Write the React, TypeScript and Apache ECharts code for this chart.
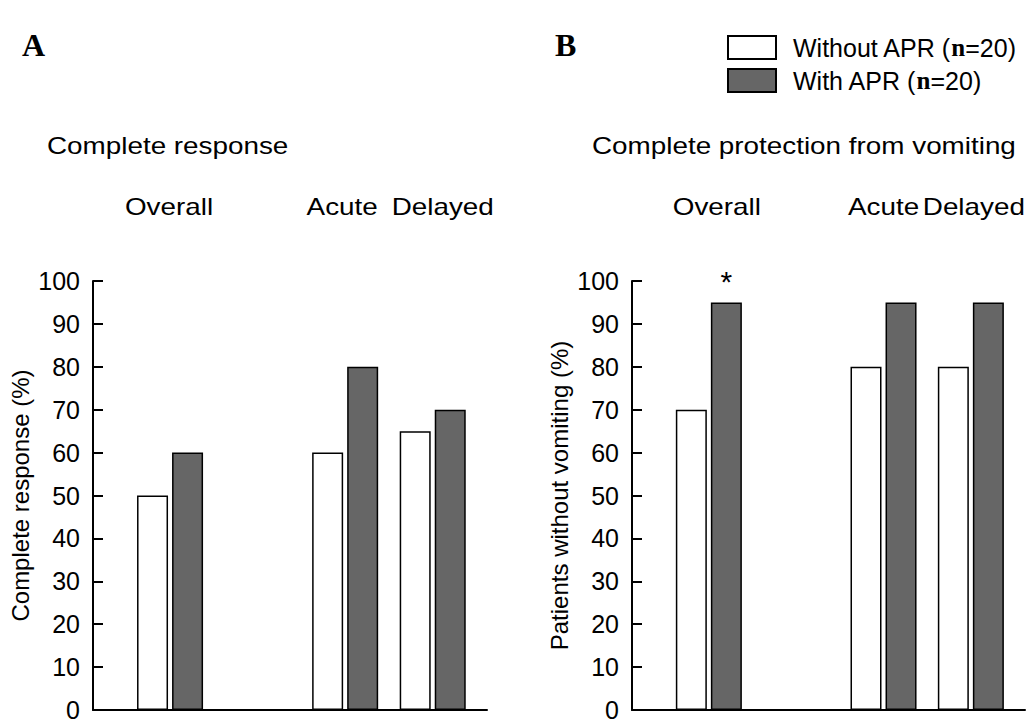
import React, { useEffect, useRef } from "react";
import * as echarts from "echarts";

const groupPositions = [1, 3, 4];
const groupLabels = ["Overall", "Acute", "Delayed"];
const seriesNames = ["Without APR (n=20)", "With APR (n=20)"];
const responseWithout = [50, 60, 65];
const responseWith = [60, 80, 70];
const vomitingWithout = [70, 80, 80];
const vomitingWith = [95, 95, 95];
const yTicks = [0, 10, 20, 30, 40, 50, 60, 70, 80, 90, 100];

const FONT = "Liberation Sans, Arial, sans-serif";
const SERIF = "Liberation Serif, Times New Roman, serif";

export default function App() {
  const ref = useRef<HTMLDivElement>(null);
  useEffect(() => {
    if (!ref.current) return;
    const chart = echarts.init(ref.current, undefined, { renderer: "svg" });
    const xMin = 0.12;
    const xMax = 4.62;
    const makeX = (gridIndex: number) => ({
      type: "value",
      gridIndex,
      min: xMin,
      max: xMax,
      axisLine: { show: true, lineStyle: { color: "#000", width: 2 } },
      axisTick: { show: false },
      axisLabel: { show: false },
      splitLine: { show: false },
    });
    const makeY = (gridIndex: number, name: string) => ({
      type: "value",
      gridIndex,
      min: 0,
      max: 100,
      interval: 10,
      name,
      nameLocation: "middle",
      nameGap: 61,
      nameTextStyle: { color: "#000", fontSize: 24, fontFamily: FONT },
      axisLine: { show: true, lineStyle: { color: "#000", width: 2 } },
      axisTick: { show: true, inside: true, length: 10, lineStyle: { color: "#000", width: 2 } },
      axisLabel: {
        color: "#000",
        fontSize: 25,
        fontFamily: FONT,
        margin: 13,
        customValues: yTicks,
      },
      splitLine: { show: false },
    });
    const white = { color: "#fff", borderColor: "#000", borderWidth: 1.5 };
    const dark = { color: "#666666", borderColor: "#000", borderWidth: 1.5 };
    const bar = (name: string, idx: number, vals: number[], style: any, asterisk = false) => ({
      type: "bar",
      name,
      xAxisIndex: idx,
      yAxisIndex: idx,
      barWidth: 31,
      barGap: "13%",
      itemStyle: style,
      data: vals.map((v, i) => {
        const item: any = { value: [groupPositions[i], v] };
        if (asterisk && i === 0) {
          item.label = {
            show: true,
            position: "top",
            formatter: "*",
            distance: 6,
            fontSize: 30,
            color: "#000",
            fontFamily: FONT,
          };
        }
        return item;
      }),
    });
    const baseGraphic = [
      { type: "text", left: 22, top: 29, style: { text: "A", fontSize: 32, fontWeight: "bold", fontFamily: SERIF, fill: "#000" } },
      { type: "text", left: 555, top: 29, style: { text: "B", fontSize: 32, fontWeight: "bold", fontFamily: SERIF, fill: "#000" } },
      { type: "text", x: 47, y: 134, scaleX: 1.16, style: { text: "Complete response", fontSize: 24, fontFamily: FONT, fill: "#000" } },
      { type: "text", x: 592, y: 134, scaleX: 1.16, style: { text: "Complete protection from vomiting", fontSize: 24, fontFamily: FONT, fill: "#000" } },
    ];
    chart.setOption({
      animation: false,
      backgroundColor: "#fff",
      grid: [
        { left: 93, top: 281, width: 394, height: 429 },
        { left: 632, top: 281, width: 393, height: 429 },
      ],
      xAxis: [makeX(0), makeX(1)],
      yAxis: [makeY(0, "Complete response (%)"), makeY(1, "Patients without vomiting (%)")],
      legend: {
        left: 727,
        top: 35,
        padding: 0,
        orient: "vertical",
        itemWidth: 48,
        itemHeight: 23,
        itemGap: 8,
        icon: "rect",
        data: seriesNames,
        formatter: (n: string) =>
          n.startsWith("Without") ? "{a|Without APR (}{b|n}{a|=20)}" : "{a|With APR (}{b|n}{a|=20)}",
        textStyle: {
          padding: [0, 0, 0, 12],
          rich: {
            a: { fontSize: 25, color: "#000", fontFamily: FONT },
            b: { fontSize: 25, color: "#000", fontFamily: SERIF, fontWeight: "bold" },
          },
        },
      },
      graphic: baseGraphic,
      series: [
        bar(seriesNames[0], 0, responseWithout, white),
        bar(seriesNames[1], 0, responseWith, dark),
        bar(seriesNames[0], 1, vomitingWithout, white),
        bar(seriesNames[1], 1, vomitingWith, dark, true),
      ],
    });
    // Group labels above each panel, positioned from the axis scale.
    const labelOffsets = [
      [-1, -3, 10],
      [8, 0, 3],
    ];
    const groupGraphic: any[] = [];
    [0, 1].forEach((axisIdx) => {
      groupPositions.forEach((p, i) => {
        const px = chart.convertToPixel({ xAxisIndex: axisIdx }, p) as number;
        groupGraphic.push({
          type: "text",
          x: px + labelOffsets[axisIdx][i],
          y: 207,
          scaleX: 1.16,
          style: {
            text: groupLabels[i],
            fontSize: 24,
            fontFamily: FONT,
            fill: "#000",
            align: "center",
            verticalAlign: "middle",
          },
        });
      });
    });
    chart.setOption({ graphic: [...baseGraphic, ...groupGraphic] });
    return () => chart.dispose();
  }, []);
  return (
    <div
      ref={ref}
      style={{ position: "fixed", left: 0, top: 0, width: 1033, height: 723 }}
    />
  );
}
